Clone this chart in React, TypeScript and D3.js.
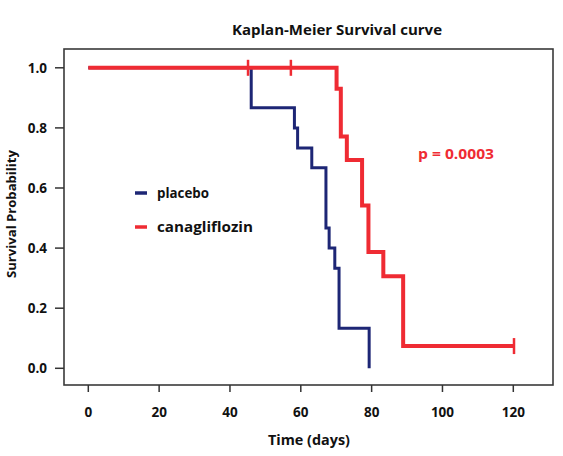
import React from "react";
import * as d3 from "d3";

const placeboTimes = [0, 46, 58.2, 59.1, 63.1, 67.1, 68.0, 69.6, 70.8, 79.3];
const placeboSurv = [1, 0.867, 0.8, 0.733, 0.667, 0.467, 0.4, 0.333, 0.133, 0];
const canaTimes = [0, 70.1, 71.3, 73.0, 77.3, 79.1, 83.3, 88.9, 120.2];
const canaSurv = [1, 0.93, 0.771, 0.693, 0.542, 0.387, 0.306, 0.074, 0.074];
const canaCensorTimes = [45.1, 57.2, 120.2];
const canaCensorSurv = [1, 1, 0.074];
const xTicks = [0, 20, 40, 60, 80, 100, 120];
const yTicks = [0, 0.2, 0.4, 0.6, 0.8, 1.0];
const seriesNames = ["placebo", "canagliflozin"];
const BLUE = "#1d2675";
const RED = "#ef2b33";
const FONT = "'Open Sans', 'Liberation Sans', sans-serif";

export default function App() {
  const x = d3.scaleLinear().domain([0, 120]).range([88.3, 513.3]);
  const y = d3.scaleLinear().domain([0, 1]).range([368.3, 67.8]);
  const line = d3
    .line<[number, number]>()
    .x((d) => x(d[0]))
    .y((d) => y(d[1]))
    .curve(d3.curveStepAfter);
  const placeboPts = placeboTimes.map((t, i) => [t, placeboSurv[i]] as [number, number]);
  const canaPts = canaTimes.map((t, i) => [t, canaSurv[i]] as [number, number]);
  const box = { l: 64, r: 553, t: 49, b: 385 };

  return (
    <svg
      width={563}
      height={456}
      style={{ position: "absolute", left: 0, top: 0, background: "#fff" }}
      fontFamily={FONT}
    >
      <rect x={0} y={0} width={563} height={456} fill="#fff" />
      <text
        x={337}
        y={35}
        textAnchor="middle"
        fontWeight="bold"
        fontSize={14}
        textLength={210}
        lengthAdjust="spacingAndGlyphs"
        fill="#111"
      >
        Kaplan-Meier Survival curve
      </text>
      <rect
        x={box.l}
        y={box.t}
        width={box.r - box.l}
        height={box.b - box.t}
        fill="none"
        stroke="#3a3a3a"
        strokeWidth={1.6}
      />
      {yTicks.map((v) => (
        <g key={"y" + v}>
          <line x1={55} x2={box.l} y1={y(v)} y2={y(v)} stroke="#333" strokeWidth={1.5} />
          <text
            x={47}
            y={y(v)}
            dy="0.35em"
            textAnchor="end"
            fontWeight="bold"
            fontSize={13.5}
            fill="#111"
          >
            {v.toFixed(1)}
          </text>
        </g>
      ))}
      {xTicks.map((v) => (
        <g key={"x" + v}>
          <line x1={x(v)} x2={x(v)} y1={box.b} y2={392} stroke="#333" strokeWidth={1.5} />
          <text
            x={x(v)}
            y={412}
            dy="0.35em"
            textAnchor="middle"
            fontWeight="bold"
            fontSize={13.5}
            fill="#111"
          >
            {v}
          </text>
        </g>
      ))}
      <text
        x={309}
        y={440}
        dy="0.35em"
        textAnchor="middle"
        fontWeight="bold"
        fontSize={13.5}
        textLength={82}
        lengthAdjust="spacingAndGlyphs"
        fill="#111"
      >
        Time (days)
      </text>
      <text
        transform="translate(16,214) rotate(-90)"
        textAnchor="middle"
        fontWeight="bold"
        fontSize={13}
        textLength={128}
        lengthAdjust="spacingAndGlyphs"
        fill="#111"
      >
        Survival Probability
      </text>
      <path d={line(placeboPts) || ""} fill="none" stroke={BLUE} strokeWidth={3} />
      <path d={line(canaPts) || ""} fill="none" stroke={RED} strokeWidth={4} />
      {canaCensorTimes.map((t, i) => (
        <line
          key={"c" + i}
          x1={x(t)}
          x2={x(t)}
          y1={y(canaCensorSurv[i]) - 8}
          y2={y(canaCensorSurv[i]) + 8}
          stroke={RED}
          strokeWidth={2.5}
        />
      ))}
      <line x1={135} x2={147} y1={193} y2={193} stroke={BLUE} strokeWidth={3.5} />
      <text x={157} y={193} dy="0.35em" fontWeight="bold" fontSize={14} fill="#111" textLength={52} lengthAdjust="spacingAndGlyphs">
        {seriesNames[0]}
      </text>
      <line x1={135} x2={147} y1={227} y2={227} stroke={RED} strokeWidth={3.5} />
      <text x={157} y={227} dy="0.35em" fontWeight="bold" fontSize={14} fill="#111" textLength={96} lengthAdjust="spacingAndGlyphs">
        {seriesNames[1]}
      </text>
      <text x={418} y={154} dy="0.35em" fontWeight="bold" fontSize={13.5} fill={RED} textLength={76} lengthAdjust="spacingAndGlyphs">
        p = 0.0003
      </text>
    </svg>
  );
}
